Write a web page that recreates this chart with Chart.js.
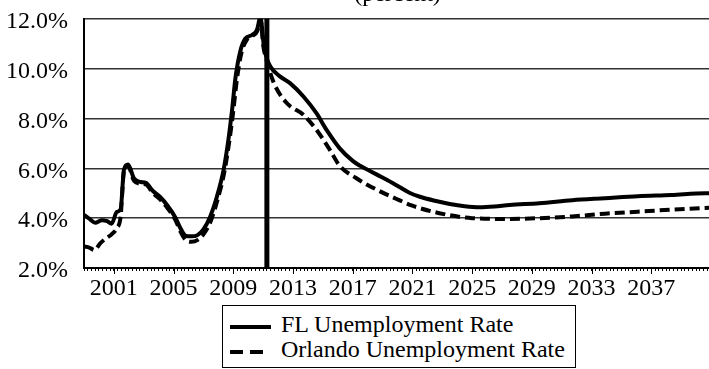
<!DOCTYPE html>
<html>
<head>
<meta charset="utf-8">
<script src="https://cdn.jsdelivr.net/npm/chart.js@4.4.1/dist/chart.umd.min.js"></script>
<style>
  html, body { margin: 0; padding: 0; background: #fff; overflow: hidden; }
  body { width: 709px; height: 369px; position: relative; }
  #chart { position: absolute; left: 0; top: -20px; }
  #legend {
    position: absolute; left: 222px; top: 305px; width: 352px; height: 61px;
    border: 1.5px solid #000; background: #fff;
    font-family: 'Liberation Serif', 'Times New Roman', serif; font-size: 24px; color: #000;
  }
  .row { position: absolute; left: 0; width: 100%; height: 26px; line-height: 26px; white-space: nowrap; }
  .row svg { position: absolute; left: 7px; top: 13px; }
  .row span { position: absolute; left: 58px; top: 0; }
</style>
</head>
<body>
<canvas id="chart" width="714" height="389"></canvas>
<div id="legend"></div>
<script>
const chartTitle = '(percent)';
const seriesNames = ['FL Unemployment Rate', 'Orlando Unemployment Rate'];

// FL (solid)
const flYears = [1999.0, 1999.35, 1999.75, 2000.2, 2000.55, 2000.85, 2001.2, 2001.45, 2001.68, 2001.95,
  2002.35, 2002.8, 2003.15, 2003.6, 2004.1, 2004.6, 2005.1, 2005.5, 2005.85, 2006.2,
  2006.6, 2007.0, 2007.45, 2007.9, 2008.35, 2008.7, 2008.92, 2009.15, 2009.47, 2009.8,
  2010.25, 2010.58, 2010.82, 2011.05, 2011.2, 2011.47, 2012.1, 2012.8, 2013.7, 2014.58,
  2015.25, 2016.13, 2017.0, 2017.5, 2018.13, 2019.25, 2020.13, 2020.8, 2021.5, 2022.5,
  2023.5, 2024.5, 2025.5, 2026.5, 2027.5, 2029.5, 2031.7, 2033.9, 2036.1, 2038.35, 2040.6, 2041];
const flRate = [4.13, 3.98, 3.82, 3.92, 3.88, 3.78, 4.25, 4.35, 5.95, 6.15,
  5.6, 5.45, 5.42, 5.1, 4.85, 4.5, 4.05, 3.55, 3.28, 3.27,
  3.32, 3.55, 4.06, 4.86, 5.94, 7.27, 8.35, 9.65, 10.7, 11.2,
  11.35, 11.55, 12.05, 10.9, 10.5, 10.1, 9.7, 9.42, 8.88, 8.2,
  7.54, 6.8, 6.3, 6.1, 5.9, 5.55, 5.25, 5.02, 4.86, 4.7,
  4.57, 4.48, 4.44, 4.47, 4.53, 4.6, 4.72, 4.8, 4.88, 4.93, 5.0, 5.0];

// Orlando (dashed)
const orlYears = [1999.0, 1999.35, 1999.7, 2000.1, 2000.5, 2000.85, 2001.2, 2001.45, 2001.68, 2001.95,
  2002.35, 2002.8, 2003.15, 2003.6, 2004.1, 2004.6, 2005.1, 2005.5, 2005.85, 2006.2,
  2006.6, 2007.0, 2007.5, 2007.95, 2008.4, 2008.75, 2009.0, 2009.25, 2009.55, 2009.9,
  2010.25, 2010.6, 2010.82, 2011.0, 2011.25, 2011.7, 2012.58, 2013.69, 2014.58, 2015.47,
  2016.13, 2017.25, 2018.58, 2019.9, 2021.0, 2022.8, 2025.0, 2027.25, 2029.5, 2031.7,
  2033.9, 2036.1, 2038.35, 2040.6, 2041];
const orlRate = [2.86, 2.82, 2.72, 3.0, 3.2, 3.35, 3.6, 4.05, 5.9, 6.1,
  5.5, 5.38, 5.35, 5.02, 4.75, 4.4, 3.95, 3.42, 3.1, 3.05,
  3.12, 3.35, 3.9, 4.75, 5.85, 7.15, 8.3, 9.6, 10.65, 11.15,
  11.3, 11.5, 12.0, 10.95, 10.3, 9.45, 8.62, 8.15, 7.54, 6.74,
  6.1, 5.6, 5.15, 4.78, 4.5, 4.2, 4.0, 3.97, 4.0, 4.07,
  4.18, 4.26, 4.34, 4.41, 4.42];

const xLabelYears = [2001, 2005, 2009, 2013, 2017, 2021, 2025, 2029, 2033, 2037];
const forecastStart = 2011.25;
const xMin = 1999, xMax = 2041;

const serif = "'Liberation Serif', 'Times New Roman', serif";

// legend (html, boxed)
const legendEl = document.getElementById('legend');
seriesNames.forEach((name, i) => {
  const row = document.createElement('div');
  row.className = 'row';
  row.style.top = (5 + i * 25) + 'px';
  const dash = i === 0 ? '' : ' stroke-dasharray="13 7"';
  row.innerHTML = '<svg width="42" height="6"><line x1="0" y1="3" x2="' + (i === 0 ? 41 : 34) +
    '" y2="3" stroke="#000" stroke-width="4"' + dash + '/></svg><span>' + name + '</span>';
  legendEl.appendChild(row);
});

// big ticks under the labelled years and the history/forecast divider
const extras = {
  id: 'extras',
  afterDatasetsDraw(chart) {
    const ctx = chart.ctx, area = chart.chartArea;
    const px = chart.scales.x.getPixelForValue(forecastStart);
    ctx.save();
    ctx.strokeStyle = '#000';
    ctx.lineWidth = 5;
    ctx.beginPath();
    ctx.moveTo(px, area.top);
    ctx.lineTo(px, area.bottom);
    ctx.stroke();
    ctx.restore();
  },
  afterDraw(chart) {
    const ctx = chart.ctx, area = chart.chartArea;
    ctx.save();
    ctx.strokeStyle = '#000';
    ctx.lineWidth = 1;
    xLabelYears.forEach(yr => {
      const px = Math.round(chart.scales.x.getPixelForValue(yr)) + 0.5;
      ctx.beginPath();
      ctx.moveTo(px, area.bottom);
      ctx.lineTo(px, area.bottom + 6);
      ctx.stroke();
    });
    ctx.restore();
  }
};

const ctx = document.getElementById('chart').getContext('2d');
new Chart(ctx, {
  type: 'line',
  data: {
    datasets: [{
      label: seriesNames[0],
      data: flYears.map((yr, i) => ({ x: yr, y: flRate[i] })),
      borderColor: '#000',
      borderWidth: 4,
      pointRadius: 0,
      cubicInterpolationMode: 'monotone',
      fill: false
    }, {
      label: seriesNames[1],
      data: orlYears.map((yr, i) => ({ x: yr, y: orlRate[i] })),
      borderColor: '#000',
      borderWidth: 4,
      borderDash: [10, 5],
      pointRadius: 0,
      cubicInterpolationMode: 'monotone',
      fill: false
    }]
  },
  options: {
    responsive: false,
    animation: false,
    layout: { padding: 0 },
    plugins: {
      legend: { display: false },
      tooltip: { enabled: false },
      title: {
        display: true,
        text: chartTitle,
        fullSize: false,
        color: '#000',
        font: { family: serif, size: 24, weight: 'normal' },
        padding: { top: 0, bottom: 10 }
      }
    },
    scales: {
      x: {
        type: 'linear',
        min: xMin,
        max: xMax,
        afterFit: (scale) => { scale.height = 101; },
        border: { display: true, color: '#000', width: 2 },
        grid: { drawOnChartArea: false, drawTicks: true, tickLength: 3, color: '#000', lineWidth: 1 },
        ticks: {
          stepSize: 0.25,
          autoSkip: false,
          maxRotation: 0,
          padding: 3,
          color: '#000',
          font: { family: serif, size: 24 },
          callback: (v) => (xLabelYears.includes(v) ? String(v) : '')
        }
      },
      y: {
        min: 2,
        max: 12,
        afterFit: (scale) => { scale.width = 84; },
        border: { display: true, color: '#000', width: 2 },
        grid: { drawTicks: false, color: '#333', lineWidth: 1.5 },
        ticks: {
          stepSize: 2,
          padding: 16,
          labelOffset: 3,
          color: '#000',
          font: { family: serif, size: 24 },
          callback: (v) => v.toFixed(1) + '%'
        }
      }
    }
  },
  plugins: [extras]
});
</script>
</body>
</html>
